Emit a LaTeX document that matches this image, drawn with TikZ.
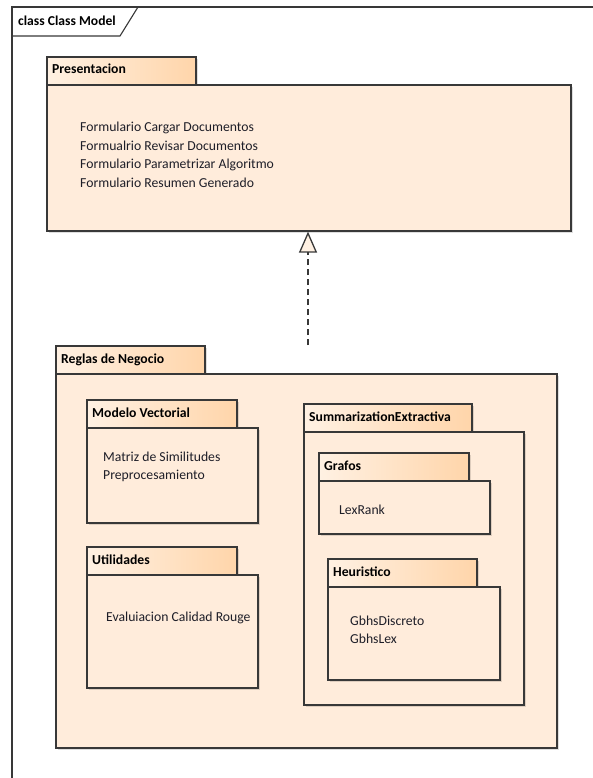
\documentclass[tikz,border=0pt]{standalone}
\usepackage{fontspec}
\setmainfont{Carlito}
\usetikzlibrary{shadows,arrows.meta}
\definecolor{pkgfill}{HTML}{FFECDB}
\definecolor{tabl}{HTML}{FFF1E3}
\definecolor{tabr}{HTML}{FFD5AA}
\definecolor{pkgline}{HTML}{383838}
\definecolor{txt}{HTML}{1E1E28}
\tikzset{
  x=1pt,y=-1pt,
  pkgbody/.style={draw=pkgline, line width=1.6pt, fill=pkgfill, anchor=north west, inner sep=0pt,
    drop shadow={shadow xshift=2.5pt, shadow yshift=-2.5pt, fill=black, opacity=0.13}},
  pkgtab/.style={draw=pkgline, line width=1.6pt, left color=tabl, right color=tabr, anchor=north west, inner sep=0pt,
    minimum height=28pt,
    drop shadow={shadow xshift=2.5pt, shadow yshift=-2.5pt, fill=black, opacity=0.13}},
  pkgtitle/.style={font=\bfseries\fontsize{13.7}{16}\selectfont, text=black, anchor=base west, inner sep=0pt},
  item/.style={font=\fontsize{13.7}{16}\selectfont, text=txt, anchor=base west, inner sep=0pt},
}
\newcommand{\pkgbox}[8]{%
  % #1 name, #2 tabx1, #3 tabx2, #4 tabtop, #5 tabbot, #6 bodyx2, #7 bodybot, #8 title
  \node[pkgtab, minimum width={#3-#2}] (#1tab) at (#2,#4) {};
  \node[pkgbody, minimum width={#6-#2}, minimum height={#7-#5}] (#1) at (#2,#5) {};
  \node[pkgtitle] (#1title) at ({#2+6},{#5-10}) {#8};
}
\begin{document}
\begin{tikzpicture}
\useasboundingbox (0,0) rectangle (592,778);
\fill[white] (0,0) rectangle (592,778);
% frame
\draw[pkgline, line width=1.1pt] (12,790) -- (12,7) -- (600,7);
\draw[pkgline, line width=1.1pt] (12,36) -- (120,36) -- (138,7);
\node[font=\bfseries\fontsize{13.6}{16}\selectfont, anchor=base west, inner sep=0pt] (frametitle) at (18,26) {class Class Model};

% Presentacion
\pkgbox{pres}{46}{195}{56}{84}{570}{230}{Presentacion}
\node[item] (p1) at (80,132) {Formulario Cargar Documentos};
\node[item] (p2) at (80,150) {Formualrio Revisar Documentos};
\node[item] (p3) at (80,168) {Formulario Parametrizar Algoritmo};
\node[item] (p4) at (80,187) {Formulario Resumen Generado};

% Reglas de Negocio
\pkgbox{rn}{55}{204}{345}{373}{556}{747}{Reglas de Negocio}

% Modelo Vectorial
\pkgbox{mv}{86}{236}{399}{427}{257}{522}{Modelo Vectorial}
\node[item] (mv1) at (103,461) {Matriz de Similitudes};
\node[item] (mv2) at (103,479) {Preprocesamiento};

% Utilidades
\pkgbox{ut}{86}{236}{546}{574}{257}{687}{Utilidades}
\node[item] (ut1) at (106,621) {Evaluiacion Calidad Rouge};

% SummarizationExtractiva
\pkgbox{se}{303}{471}{403}{431}{523}{704}{SummarizationExtractiva}

% Grafos
\pkgbox{gr}{318}{468}{452}{480}{489}{533}{Grafos}
\node[item] (gr1) at (339,514) {LexRank};

% Heuristico
\pkgbox{he}{327}{476}{558}{586}{499}{679}{Heuristico}
\node[item] (he1) at (350,625) {GbhsDiscreto};
\node[item] (he2) at (350,643) {GbhsLex};

% dependency / realization
\coordinate (dep) at (308,345);
\draw[pkgline, line width=1.3pt, dash pattern=on 6pt off 4pt,
  -{Triangle[open, width=18pt, length=21pt, fill=tabl, line width=1.3pt]}]
  (dep) -- (pres.south -| dep);
\end{tikzpicture}
\end{document}
